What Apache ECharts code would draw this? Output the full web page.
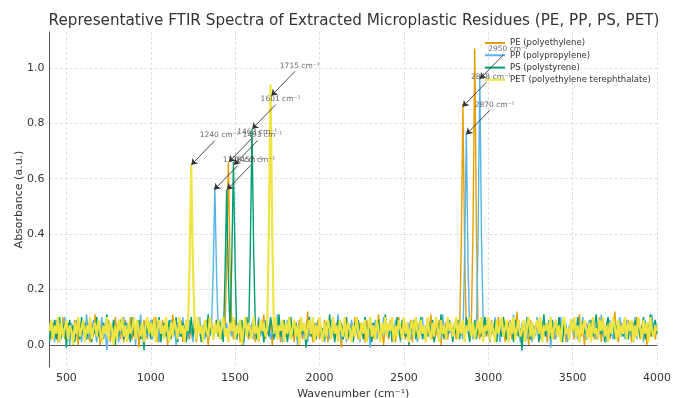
<!DOCTYPE html>
<html><head><meta charset="utf-8">
<script src="https://cdn.jsdelivr.net/npm/echarts@6/dist/echarts.min.js"></script>
<style>html,body{margin:0;padding:0;background:#fff}#c{width:673px;height:398px}</style>
</head><body><div id="c"></div>
<script>
const wavenumbers = [
400,410,420,430,440,450,460,470,480,490,500,510,520,530,540,550,560,570,580,590,
600,610,620,630,640,650,660,670,680,690,700,710,720,730,740,750,760,770,780,790,
800,810,820,830,840,850,860,870,880,890,900,910,920,930,940,950,960,970,980,990,
1000,1010,1020,1030,1040,1050,1060,1070,1080,1090,1100,1110,1120,1130,1140,1150,1160,1170,1180,1190,
1200,1210,1220,1230,1240,1250,1260,1270,1280,1290,1300,1310,1320,1330,1340,1350,1360,1370,1380,1390,
1400,1410,1420,1430,1440,1450,1460,1470,1480,1490,1500,1510,1520,1530,1540,1550,1560,1570,1580,1590,
1600,1610,1620,1630,1640,1650,1660,1670,1680,1690,1700,1710,1720,1730,1740,1750,1760,1770,1780,1790,
1800,1810,1820,1830,1840,1850,1860,1870,1880,1890,1900,1910,1920,1930,1940,1950,1960,1970,1980,1990,
2000,2010,2020,2030,2040,2050,2060,2070,2080,2090,2100,2110,2120,2130,2140,2150,2160,2170,2180,2190,
2200,2210,2220,2230,2240,2250,2260,2270,2280,2290,2300,2310,2320,2330,2340,2350,2360,2370,2380,2390,
2400,2410,2420,2430,2440,2450,2460,2470,2480,2490,2500,2510,2520,2530,2540,2550,2560,2570,2580,2590,
2600,2610,2620,2630,2640,2650,2660,2670,2680,2690,2700,2710,2720,2730,2740,2750,2760,2770,2780,2790,
2800,2810,2820,2830,2840,2850,2860,2870,2880,2890,2900,2910,2920,2930,2940,2950,2960,2970,2980,2990,
3000,3010,3020,3030,3040,3050,3060,3070,3080,3090,3100,3110,3120,3130,3140,3150,3160,3170,3180,3190,
3200,3210,3220,3230,3240,3250,3260,3270,3280,3290,3300,3310,3320,3330,3340,3350,3360,3370,3380,3390,
3400,3410,3420,3430,3440,3450,3460,3470,3480,3490,3500,3510,3520,3530,3540,3550,3560,3570,3580,3590,
3600,3610,3620,3630,3640,3650,3660,3670,3680,3690,3700,3710,3720,3730,3740,3750,3760,3770,3780,3790,
3800,3810,3820,3830,3840,3850,3860,3870,3880,3890,3900,3910,3920,3930,3940,3950,3960,3970,3980,3990,
4000];

const absorbancePE = [
0.06,0.02,0.08,0.03,0.09,0.01,0.07,0.04,0.10,0.02,0.06,0.08,0.01,0.07,0.03,0.09,0.05,0.00,0.08,0.04,
0.07,0.02,0.09,0.05,0.01,0.08,0.03,0.11,0.04,0.06,0.00,0.08,0.02,0.07,0.05,0.09,0.01,0.06,0.03,0.10,
0.04,0.08,0.02,0.07,0.01,0.09,0.05,0.03,0.10,0.02,0.07,0.04,0.08,-0.01,0.06,0.03,0.09,0.05,0.02,0.08,
0.03,0.07,0.05,0.10,0.01,0.06,0.02,0.09,0.04,0.08,0.00,0.07,0.03,0.11,0.05,0.02,0.08,0.04,0.09,0.01,
0.07,0.03,0.09,0.02,0.06,0.04,0.10,0.01,0.08,0.05,0.02,0.07,0.03,0.09,0.00,0.06,0.08,0.02,0.05,0.09,
0.03,0.08,0.02,0.06,0.04,0.31,0.66,0.29,0.07,0.02,0.09,0.04,0.06,0.01,0.08,0.03,0.10,0.05,0.02,0.07,
0.04,0.09,0.01,0.06,0.03,0.08,0.05,0.11,0.02,0.07,0.04,0.09,0.00,0.06,0.03,0.08,0.05,0.01,0.09,0.04,
0.07,0.02,0.10,0.04,0.06,0.01,0.08,0.03,0.09,0.05,0.02,0.07,0.04,0.12,0.03,0.06,0.01,0.08,0.04,0.09,
0.02,0.06,0.03,0.09,0.05,0.01,0.07,0.04,0.10,0.02,0.08,0.03,0.06,-0.01,0.07,0.04,0.09,0.02,0.05,0.08,
0.03,0.10,0.05,0.02,0.08,0.04,0.07,0.01,0.09,0.03,0.06,0.08,0.02,0.07,0.04,0.11,0.03,0.06,0.00,0.08,
0.05,0.02,0.09,0.04,0.07,0.01,0.06,0.10,0.03,0.08,0.05,0.02,0.07,0.04,0.09,0.01,0.06,0.03,0.08,0.05,
0.09,0.03,0.06,0.01,0.08,0.04,0.11,0.02,0.07,0.05,0.03,0.09,0.00,0.06,0.04,0.08,0.02,0.07,0.05,0.03,
0.08,0.02,0.06,0.04,0.36,0.87,0.34,0.05,0.09,0.03,0.07,0.44,1.07,0.41,0.06,0.02,0.08,0.04,0.10,0.03,
0.06,0.01,0.09,0.04,0.07,0.02,0.10,0.05,0.03,0.08,0.01,0.06,0.04,0.09,0.02,0.07,0.05,0.12,0.03,0.06,
0.02,0.08,0.04,0.06,0.00,0.09,0.03,0.07,0.05,0.10,0.02,0.06,0.08,0.03,0.07,0.01,0.09,0.04,0.06,0.02,
0.07,0.04,0.10,0.02,0.05,0.08,0.01,0.06,0.03,0.09,0.05,0.02,0.07,0.04,0.11,0.03,0.06,0.00,0.08,0.05,
0.03,0.09,0.06,0.02,0.07,0.04,0.10,0.01,0.08,0.03,0.06,0.09,0.02,0.05,0.07,0.12,0.04,0.01,0.06,0.08,
0.04,0.07,0.02,0.09,0.05,0.01,0.08,0.03,0.10,0.06,0.02,0.07,0.04,0.09,0.00,0.06,0.03,0.08,0.05,0.02,
0.07];

const absorbancePP = [
0.03,0.08,0.05,0.01,0.09,0.04,0.07,0.02,0.06,0.10,0.03,0.07,0.00,0.08,0.05,0.02,0.09,0.04,0.06,0.01,
0.08,0.04,0.11,0.02,0.06,0.03,0.09,0.05,0.01,0.07,0.04,0.10,0.02,0.06,-0.02,0.08,0.05,0.03,0.09,0.04,
0.06,0.01,0.07,0.04,0.10,0.03,0.08,0.02,0.06,0.05,0.09,0.00,0.07,0.04,0.11,0.02,0.06,0.08,0.03,0.05,
0.09,0.02,0.06,0.04,0.08,0.01,0.07,0.05,0.03,0.10,0.02,0.06,0.09,0.04,0.07,0.00,0.08,0.03,0.05,0.10,
0.04,0.07,0.02,0.09,0.05,0.01,0.08,0.03,0.06,0.10,0.04,0.07,0.02,0.05,0.09,0.03,0.06,0.27,0.57,0.25,
0.05,0.09,0.02,0.07,0.04,0.08,0.01,0.06,0.03,0.10,0.05,0.02,0.08,0.04,0.07,0.00,0.09,0.03,0.06,0.04,
0.08,0.02,0.07,0.05,0.10,0.03,0.06,0.01,0.09,0.04,0.07,0.02,0.05,0.08,0.03,0.11,0.04,0.06,0.01,0.07,
0.03,0.09,0.05,0.02,0.07,0.04,0.08,0.00,0.06,0.10,0.03,0.07,0.05,0.01,0.09,0.04,0.06,0.02,0.08,0.05,
0.10,0.03,0.06,0.01,0.08,0.05,0.02,0.09,0.04,0.07,0.03,0.11,0.05,0.02,0.06,0.08,0.01,0.07,0.04,0.09,
0.02,0.06,0.04,0.08,0.01,0.07,0.05,0.10,0.03,0.06,-0.01,0.08,0.04,0.09,0.02,0.07,0.05,0.03,0.10,0.04,
0.07,0.03,0.08,0.05,0.02,0.09,0.04,0.06,0.01,0.07,0.10,0.03,0.05,0.08,0.02,0.06,0.04,0.09,0.01,0.07,
0.04,0.10,0.02,0.06,0.08,0.03,0.07,0.05,0.01,0.09,0.04,0.06,0.02,0.11,0.05,0.03,0.08,0.04,0.07,0.02,
0.06,0.09,0.03,0.07,0.05,0.02,0.32,0.77,0.30,0.04,0.08,0.02,0.06,0.05,0.40,0.97,0.38,0.07,0.03,0.09,
0.05,0.02,0.08,0.04,0.10,0.03,0.06,0.01,0.09,0.05,0.07,0.02,0.08,0.04,0.06,0.11,0.03,0.07,0.05,0.01,
0.08,0.04,0.06,0.02,0.09,0.05,0.01,0.07,0.03,0.10,0.06,0.02,0.08,0.04,0.07,0.03,0.09,-0.01,0.06,0.05,
0.02,0.07,0.04,0.10,0.03,0.06,0.08,0.01,0.07,0.05,0.09,0.03,0.06,0.02,0.08,0.04,0.10,0.05,0.02,0.07,
0.09,0.03,0.05,0.08,0.02,0.06,0.04,0.11,0.03,0.07,0.01,0.06,0.09,0.04,0.02,0.08,0.05,0.07,0.10,0.03,
0.06,0.02,0.09,0.04,0.07,0.03,0.05,0.10,0.02,0.08,0.04,0.06,0.01,0.09,0.05,0.03,0.07,0.11,0.04,0.06,
0.05];

const absorbancePS = [
0.01,0.07,0.04,0.09,0.02,0.06,0.10,0.03,0.05,0.08,-0.01,0.06,0.09,0.03,0.07,0.01,0.08,0.05,0.02,0.10,
0.04,0.08,0.02,0.06,0.09,0.01,0.07,0.04,0.10,0.03,0.06,0.02,0.08,0.05,0.11,0.02,0.07,0.04,0.09,0.00,
0.07,0.03,0.09,0.05,0.02,0.08,0.04,0.06,0.01,0.10,0.03,0.07,0.05,0.09,0.02,0.06,-0.02,0.08,0.04,0.07,
0.02,0.09,0.05,0.03,0.07,0.10,0.01,0.06,0.08,0.03,0.05,0.09,0.02,0.07,0.04,0.10,0.01,0.06,0.03,0.08,
0.06,0.01,0.08,0.04,0.10,0.03,0.07,0.02,0.09,0.05,0.01,0.06,0.08,0.03,0.11,0.04,0.07,0.02,0.06,0.09,
0.03,0.08,0.05,0.01,0.25,0.56,0.24,0.05,0.30,0.66,0.29,0.02,0.07,0.04,0.09,0.01,0.06,0.10,0.03,0.35,
0.78,0.33,0.06,0.02,0.09,0.04,0.07,0.01,0.08,0.05,0.03,0.10,0.06,0.02,0.08,0.04,0.11,0.03,0.06,0.09,
0.05,0.01,0.07,0.10,0.03,0.06,0.08,0.02,0.05,0.09,0.04,0.07,-0.01,0.06,0.10,0.03,0.08,0.05,0.02,0.07,
0.09,0.04,0.06,0.02,0.08,0.05,0.11,0.03,0.07,0.01,0.06,0.09,0.04,0.08,0.02,0.05,0.10,0.03,0.07,0.04,
0.01,0.08,0.05,0.09,0.03,0.06,0.02,0.10,0.04,0.07,0.05,0.01,0.08,0.03,0.06,0.09,0.02,0.07,0.04,0.11,
0.06,0.03,0.08,0.01,0.07,0.04,0.10,0.05,0.02,0.09,0.06,0.03,0.08,0.00,0.07,0.05,0.09,0.02,0.06,0.04,
0.10,0.02,0.07,0.05,0.03,0.08,0.04,0.09,0.01,0.06,0.08,0.03,0.11,0.05,0.02,0.07,0.04,0.09,0.06,0.01,
0.07,0.04,0.09,0.02,0.06,0.08,0.03,0.10,0.05,0.01,0.07,0.04,0.09,0.02,0.06,0.08,0.03,0.05,0.10,0.04,
0.08,0.02,0.06,0.04,0.09,0.01,0.07,0.05,0.03,0.10,0.06,0.02,0.08,0.04,0.07,0.01,0.09,0.05,0.03,0.06,
-0.02,0.07,0.04,0.10,0.05,0.02,0.08,0.03,0.06,0.09,0.01,0.07,0.05,0.11,0.03,0.06,0.08,0.02,0.09,0.04,
0.07,0.03,0.10,0.05,0.01,0.08,0.04,0.06,0.02,0.09,0.05,0.07,0.03,0.10,0.01,0.06,0.08,0.04,0.07,0.02,
0.05,0.09,0.03,0.07,0.11,0.02,0.06,0.04,0.08,0.01,0.07,0.10,0.03,0.05,0.09,0.02,0.06,0.08,0.04,0.07,
0.03,0.10,0.06,0.02,0.08,0.05,0.01,0.09,0.04,0.07,0.03,0.06,0.10,0.02,0.08,0.05,0.11,0.03,0.07,0.09,
0.04];

const absorbancePET = [
0.05,0.09,0.02,0.07,0.04,0.10,0.01,0.08,0.03,0.06,0.09,0.02,0.07,0.05,0.00,0.08,0.04,0.10,0.03,0.06,
0.09,0.01,0.07,0.04,0.10,0.02,0.06,0.08,0.03,0.09,0.05,0.01,0.07,0.04,0.10,0.02,0.08,0.06,0.00,0.07,
0.02,0.09,0.05,0.10,0.03,0.07,0.01,0.08,0.04,0.06,0.10,0.02,0.09,0.05,0.03,0.08,0.01,0.07,0.10,0.04,
0.08,0.03,0.10,0.01,0.06,0.09,0.04,0.07,0.02,0.10,0.05,0.01,0.08,0.03,0.09,0.06,0.02,0.10,0.04,0.07,
0.01,0.09,0.05,0.30,0.65,0.28,0.08,0.02,0.10,0.04,0.07,0.01,0.09,0.05,0.03,0.10,0.06,0.02,0.08,0.04,
0.09,0.02,0.07,0.10,0.03,0.06,0.01,0.08,0.05,0.10,0.02,0.07,0.04,0.09,0.00,0.06,0.10,0.03,0.08,0.05,
0.02,0.10,0.04,0.07,0.01,0.09,0.05,0.08,0.03,0.06,0.42,0.94,0.40,0.04,0.10,0.02,0.07,0.05,0.09,0.01,
0.08,0.04,0.10,0.02,0.06,0.09,0.03,0.07,0.00,0.10,0.05,0.08,0.02,0.06,0.09,0.04,0.10,0.01,0.07,0.03,
0.10,0.05,0.01,0.08,0.03,0.09,0.06,0.02,0.10,0.04,0.07,0.01,0.09,0.05,0.03,0.10,0.02,0.08,0.06,0.01,
0.07,0.03,0.10,0.05,0.02,0.08,0.04,0.09,0.01,0.06,0.10,0.03,0.07,0.02,0.09,0.05,0.01,0.08,0.04,0.10,
0.03,0.08,0.05,0.10,0.01,0.07,0.03,0.09,0.06,0.02,0.10,0.04,0.08,0.01,0.06,0.09,0.03,0.10,0.05,0.02,
0.09,0.04,0.07,0.01,0.10,0.05,0.02,0.08,0.03,0.10,0.06,0.01,0.09,0.04,0.07,0.02,0.10,0.05,0.08,0.03,
0.06,0.10,0.02,0.08,0.04,0.09,0.01,0.07,0.05,0.10,0.03,0.08,0.02,0.06,0.09,0.04,0.10,0.01,0.07,0.05,
0.10,0.02,0.08,0.05,0.01,0.09,0.04,0.07,0.10,0.03,0.06,0.09,0.01,0.08,0.04,0.10,0.02,0.06,0.09,0.03,
0.05,0.09,0.01,0.07,0.10,0.03,0.08,0.02,0.06,0.09,0.04,0.10,0.01,0.07,0.05,0.08,0.03,0.10,0.02,0.06,
0.09,0.03,0.07,0.01,0.08,0.10,0.04,0.06,0.02,0.09,0.05,0.10,0.03,0.07,0.01,0.08,0.04,0.09,0.06,0.02,
0.08,0.01,0.10,0.04,0.06,0.02,0.09,0.05,0.10,0.03,0.07,0.01,0.08,0.04,0.10,0.06,0.02,0.09,0.03,0.07,
0.04,0.10,0.02,0.08,0.05,0.09,0.01,0.07,0.03,0.10,0.06,0.02,0.09,0.04,0.08,0.01,0.10,0.05,0.03,0.07,
0.05];

const seriesNames = ['PE (polyethylene)', 'PP (polypropylene)', 'PS (polystyrene)', 'PET (polyethylene terephthalate)'];
const peakWavenumbers = [2916, 2848, 1463, 2950, 2870, 1376, 1601, 1493, 1452, 1715, 1240];
const peakAbsorbance  = [1.07, 0.86, 0.66, 0.96, 0.76, 0.56, 0.78, 0.65, 0.56, 0.90, 0.65];
const peakLabels = ['2916 cm⁻¹','2848 cm⁻¹','1463 cm⁻¹','2950 cm⁻¹','2870 cm⁻¹','1376 cm⁻¹','1601 cm⁻¹','1493 cm⁻¹','1452 cm⁻¹','1715 cm⁻¹','1240 cm⁻¹'];

const colors = ['#E69F00', '#56B4E9', '#009E73', '#F0E442'];
const lineWidths = [1.4, 1.4, 1.4, 2.2];
const FONT = 'DejaVu Sans';

const seriesValues = [absorbancePE, absorbancePP, absorbancePS, absorbancePET];
const lineSeries = seriesValues.map((vals, s) => ({
  name: seriesNames[s],
  type: 'line',
  data: wavenumbers.map((w, i) => [w, vals[i]]),
  showSymbol: false,
  symbol: 'none',
  lineStyle: { width: lineWidths[s], color: colors[s] },
  itemStyle: { color: colors[s] },
  animation: false,
  z: 2
}));

// annotation text anchors and arrows (offsets in data units)
const LABEL_DX = 50, LABEL_DY = 0.1, ARROW_DX = 140, ARROW_DY = 0.088;
const annotSeries = {
  name: 'annotations',
  type: 'scatter',
  symbolSize: 0,
  z: 5,
  silent: true,
  animation: false,
  data: peakWavenumbers.map((w, i) => ({
    value: [w + LABEL_DX, peakAbsorbance[i] + LABEL_DY],
    label: { formatter: peakLabels[i] }
  })),
  label: {
    show: true, position: [0, 2], align: 'left', verticalAlign: 'bottom',
    fontFamily: FONT, fontSize: 7.5, color: '#444'
  },
  markLine: {
    silent: true,
    animation: false,
    symbol: ['none', 'arrow'],
    symbolSize: 6,
    label: { show: false },
    lineStyle: { color: '#333', width: 0.9, type: 'solid' },
    data: peakWavenumbers.map((w, i) => [
      { coord: [w + ARROW_DX, peakAbsorbance[i] + ARROW_DY] },
      { coord: [w, peakAbsorbance[i]] }
    ])
  }
};

const chart = echarts.init(document.getElementById('c'), null, { renderer: 'canvas' });
chart.setOption({
  animation: false,
  backgroundColor: '#fff',
  color: colors,
  title: {
    text: 'Representative FTIR Spectra of Extracted Microplastic Residues (PE, PP, PS, PET)',
    left: 349, top: 9, textAlign: 'center',
    textStyle: { fontFamily: 'DejaVu Sans', fontSize: 15.2, fontWeight: 'normal', color: '#333' }
  },
  legend: {
    data: seriesNames,
    orient: 'vertical',
    left: 485, top: 38,
    padding: 0,
    icon: 'rect',
    itemWidth: 20, itemHeight: 2,
    itemGap: 2.3,
    textStyle: { fontFamily: FONT, fontSize: 8.5, color: '#333', lineHeight: 10 }
  },
  grid: { left: 49.5, right: 16, top: 32, bottom: 31, containLabel: false, outerBoundsMode: 'none' },
  xAxis: {
    type: 'value', min: 400, max: 4000, interval: 100,
    name: 'Wavenumber (cm⁻¹)', nameLocation: 'middle', nameGap: 19,
    nameTextStyle: { fontFamily: FONT, fontSize: 11, color: '#333' },
    axisLine: { show: true, lineStyle: { color: '#555', width: 1 } },
    axisTick: { show: false },
    axisLabel: {
      fontFamily: FONT, fontSize: 11, color: '#333', margin: 6,
      formatter: v => (v % 500 === 0 ? String(v) : '')
    },
    splitLine: { show: true, lineStyle: { color: ['transparent', '#d8d8d8', 'transparent', 'transparent', 'transparent'], type: [3, 2], width: 0.8 } }
  },
  yAxis: {
    type: 'value', min: -0.08, max: 1.13, interval: 0.04,
    name: 'Absorbance (a.u.)', nameLocation: 'middle', nameGap: 25, nameMoveOverlap: false,
    nameTextStyle: { fontFamily: FONT, fontSize: 11, color: '#333' },
    axisLine: { show: true, lineStyle: { color: '#555', width: 1 } },
    axisTick: { show: false },
    axisLabel: {
      fontFamily: FONT, fontSize: 11, color: '#333', margin: 5,
      formatter: v => (Math.abs(v * 5 - Math.round(v * 5)) < 1e-6 ? (Math.round(v * 5) / 5).toFixed(1) : '')
    },
    splitLine: { show: true, lineStyle: { color: ['transparent', 'transparent', '#d8d8d8', 'transparent', 'transparent'], type: [3, 2], width: 0.8 } }
  },
  series: [...lineSeries, annotSeries]
});
</script>
</body></html>
